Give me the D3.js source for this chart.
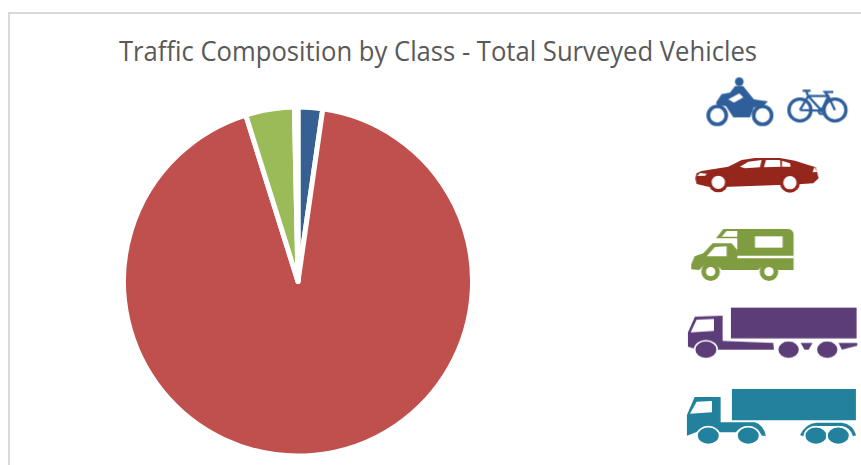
<!DOCTYPE html>
<html lang="en">
<head>
	<title>Traffic Composition by Class</title>
	<meta charset="utf-8" />
	<script src="https://d3js.org/d3.v7.min.js"></script>
	<style>
		html, body { margin: 0; padding: 0; background: #fff; overflow: hidden; }
		svg { display: block; }
		.title { font-family: "Open Sans", sans-serif; font-size: 26.5px; fill: #595959; }
	</style>
</head>
<body>
<script>
	// values, percent of surveyed vehicles
	var classes = ['Motorcycles and cycles', 'Cars', 'Vans and campers', 'Rigid trucks', 'Articulated trucks'];
	var shares = [2.27, 92.89, 4.51, 0.20, 0.13];
	var title = 'Traffic Composition by Class - Total Surveyed Vehicles';

	var pieColors = ['#376092', '#c0504d', '#9bbb59', '#5f497a', '#31859c'];

	var width = 861, height = 465;

	var svg = d3.select('body').append('svg')
		.attr('width', width)
		.attr('height', height);

	svg.append('defs').append('filter')
		.attr('id', 'soft')
		.append('feGaussianBlur')
		.attr('stdDeviation', 1.4);

	// chart frame, runs off the window on the right and bottom
	svg.append('path')
		.attr('d', 'M9,' + height + 'V13H' + width)
		.attr('fill', 'none')
		.attr('stroke', '#d9d9d9')
		.attr('stroke-width', 2);

	svg.append('text')
		.attr('class', 'title')
		.attr('x', 438)
		.attr('y', 61)
		.attr('text-anchor', 'middle')
		.attr('textLength', 638)
		.attr('lengthAdjust', 'spacingAndGlyphs')
		.text(title);

	var pie = d3.pie().sort(null);
	var arc = d3.arc().innerRadius(0).outerRadius(174.5);

	svg.append('g')
		.attr('transform', 'translate(298,281.5)')
		.selectAll('path')
		.data(pie(shares))
		.enter()
		.append('path')
		.attr('d', arc)
		.attr('fill', function(d, i) { return pieColors[i]; })
		.attr('stroke', '#fff')
		.attr('stroke-width', 5)
		.attr('stroke-linejoin', 'round')
		.append('title')
		.text(function(d, i) { return classes[i]; });

	// class icons, drawn at 3x and scaled down
	var icons = svg.append('g').attr('filter', 'url(#soft)').attr('transform', 'scale(0.3333)');

	function circle(g, x, y, r, fill) {
		g.append('circle').attr('cx', x).attr('cy', y).attr('r', r).attr('fill', fill);
	}
	function ring(g, x, y, r, w, color) {
		g.append('circle').attr('cx', x).attr('cy', y).attr('r', r)
			.attr('fill', 'none').attr('stroke', color).attr('stroke-width', w);
	}
	function shape(g, d, fill) {
		g.append('path').attr('d', d).attr('fill', fill);
	}
	function wheel(g, x, y, rx, ry, color) {
		g.append('ellipse').attr('cx', x).attr('cy', y).attr('rx', rx).attr('ry', ry)
			.attr('fill', color).attr('stroke', '#fff').attr('stroke-width', 5);
	}

	// motorcycle and bicycle
	var blue = '#2f5f9b';
	var bike = icons.append('g').attr('transform', 'translate(2040,210)');
	ring(bike, 112, 136, 27, 11, blue);
	ring(bike, 248, 136, 27, 11, blue);
	circle(bike, 178, 35, 13, blue);
	shape(bike, 'M108,98 L125,72 L150,68 L165,48 L190,48 L212,76 L222,88 L264,94 L250,108 L222,112 L210,142 L160,142 L138,108 L112,106 Z', blue);
	shape(bike, 'M145,88 L178,70 L190,82 L162,98 Z', '#fff');
	var bikeLines = 'M360,120 L385,78 L445,78 L465,120 M385,78 L425,122 L445,78 M360,120 L425,122 M368,62 L392,62 M385,78 L378,62 M445,78 L435,66 L460,66';
	bike.append('path').attr('d', bikeLines).attr('fill', 'none').attr('stroke', blue).attr('stroke-width', 7);
	ring(bike, 360, 120, 33, 10, blue);
	ring(bike, 465, 120, 33, 10, blue);
	ring(bike, 425, 124, 8, 7, blue);

	// car
	var red = '#94251f';
	var car = icons.append('g').attr('transform', 'translate(2040,210)');
	shape(car, 'M46,325 L50,310 L65,303 L145,290 L185,270 L225,264 L300,264 L345,272 L385,285 L408,292 L416,325 L400,340 L365,342 L295,345 L150,350 L85,350 L50,342 Z', red);
	shape(car, 'M180,290 L205,275 L245,270 L240,292 L195,295 Z', '#fff');
	shape(car, 'M252,292 L258,270 L300,270 L302,290 Z', '#fff');
	shape(car, 'M306,272 L330,280 L332,290 L306,290 Z', '#fff');
	shape(car, 'M398,307 L404,290 L412,306 Z', '#fff');
	shape(car, 'M52,318 L60,309 L80,311 L76,317 Z', '#fff');
	circle(car, 115, 337, 30, red);
	circle(car, 330, 338, 30, red);
	circle(car, 115, 337, 20, '#fff');
	circle(car, 330, 338, 20, '#fff');

	// camper van
	var green = '#7f9c41';
	var camper = icons.append('g').attr('transform', 'translate(2040,645)');
	shape(camper, 'M108,70 L130,42 L325,42 Q340,44 341,58 L341,165 L295,165 Q265,130 235,165 L125,165 Q92,125 58,165 L34,163 L34,148 L44,124 L70,115 L98,85 L155,85 L172,105 L172,70 Z', green);
	shape(camper, 'M125,65 L140,48 L172,48 L172,65 Z', '#fff');
	shape(camper, 'M80,124 L105,96 L140,94 L140,124 Z', '#fff');
	shape(camper, 'M225,64 H308 V98 H225 Z', '#fff');
	shape(camper, 'M172,122 H341 V130 H172 Z', '#fff');
	ring(camper, 92, 170, 21, 14, green);
	ring(camper, 267, 170, 21, 14, green);

	// rigid truck with trailer
	var purple = '#5b3c78';
	var truck = icons.append('g').attr('transform', 'translate(2040,645)');
	shape(truck, 'M153,278 H530 V370 H153 Z', purple);
	shape(truck, 'M24,395 V352 L45,305 L128,302 V378 L280,384 L282,404 L112,404 Q80,360 46,402 Z', purple);
	shape(truck, 'M32,352 L50,314 L102,312 V348 Z', '#fff');
	shape(truck, 'M362,384 H398 L386,404 H374 Z', purple);
	shape(truck, 'M476,384 H532 V392 L486,404 Z', purple);
	wheel(truck, 78, 404, 34, 27, purple);
	wheel(truck, 326, 404, 33, 27, purple);
	wheel(truck, 442, 404, 33, 27, purple);

	// articulated truck
	var teal = '#23819c';
	var artic = icons.append('g').attr('transform', 'translate(2040,645)');
	shape(artic, 'M156,522 H528 V616 H156 Z', teal);
	shape(artic, 'M21,600 L44,546 L122,546 V622 L225,622 Q250,630 258,662 L246,662 Q230,635 205,634 Q180,634 168,652 L116,652 Q85,622 52,650 L21,662 Z', teal);
	shape(artic, 'M30,596 L50,560 L96,558 V592 Z', '#fff');
	artic.append('path').attr('d', 'M365,662 Q380,630 410,628 H485 Q515,632 524,662')
		.attr('fill', 'none').attr('stroke', teal).attr('stroke-width', 10);
	[85, 205, 408, 475].forEach(function(x) {
		wheel(artic, x, 662, 34, 27, teal);
	});
</script>
</body>
</html>
